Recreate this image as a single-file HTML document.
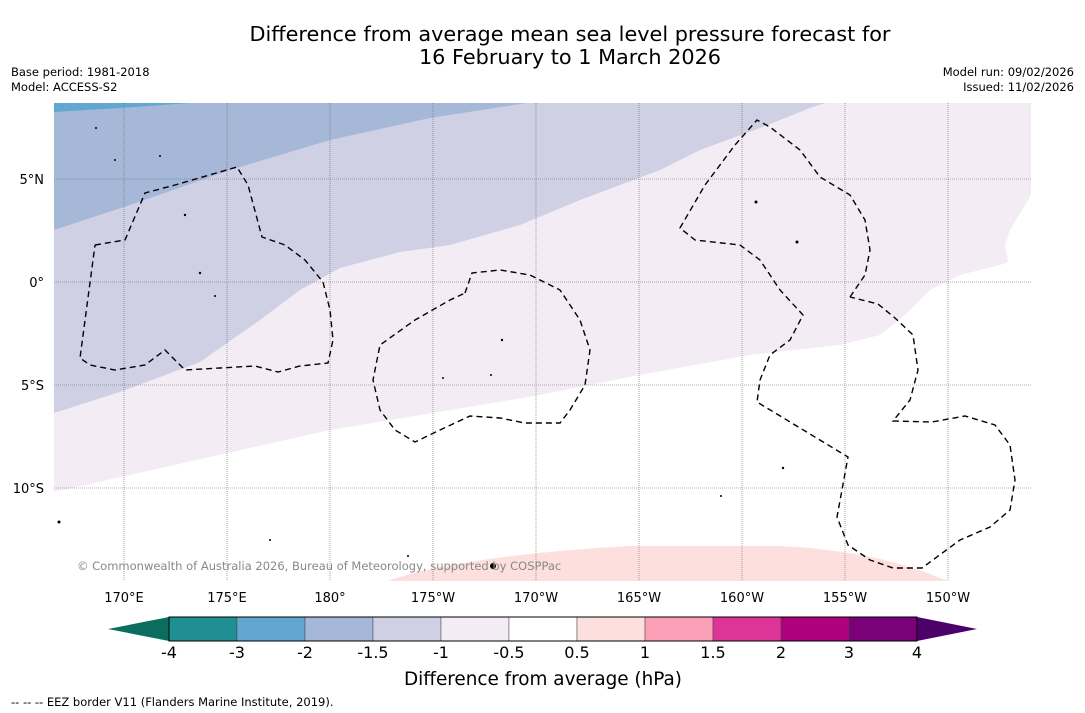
<!DOCTYPE html>
<html><head><meta charset="utf-8"><style>
body{margin:0;background:#fff;width:1085px;height:713px;overflow:hidden;font-family:"Liberation Sans","DejaVu Sans",sans-serif}
svg{position:absolute;left:0;top:0}
</style></head><body>
<svg id="s" width="1085" height="713" xmlns="http://www.w3.org/2000/svg">
<text x="570" y="41" font-size="20.8" text-anchor="middle" font-family="DejaVu Sans,sans-serif">Difference from average mean sea level pressure forecast for</text>
<text x="570" y="64" font-size="20.8" text-anchor="middle" font-family="DejaVu Sans,sans-serif">16 February to 1 March 2026</text>
<text x="11" y="76" font-size="11.5" font-family="DejaVu Sans,sans-serif">Base period: 1981-2018</text>
<text x="11" y="91" font-size="11.5" font-family="DejaVu Sans,sans-serif">Model: ACCESS-S2</text>
<text x="1074" y="76" font-size="11.5" text-anchor="end" font-family="DejaVu Sans,sans-serif">Model run: 09/02/2026</text>
<text x="1074" y="91" font-size="11.5" text-anchor="end" font-family="DejaVu Sans,sans-serif">Issued: 11/02/2026</text>
<defs><clipPath id="mc"><rect x="54" y="103" width="977" height="478"/></clipPath></defs>
<g clip-path="url(#mc)">
<rect x="54" y="103" width="977" height="478" fill="#ffffff"/>
<polygon fill="#f3ecf4" points="54,103 1031,103 1031,195 1010,230 1005,245 1008,262 1000,265 960,275 930,290 905,315 880,335 840,345 750,355 650,373 540,395 330,430 54,492"/>
<polygon fill="#cfd0e4" points="54,103 825,103 810,108 760,128 700,150 660,170 620,185 580,200 520,225 450,245 400,252 340,268 300,290 260,320 200,362 120,392 54,413"/>
<polygon fill="#a5b8d8" points="54,103 527,103 430,118 330,140 230,170 130,205 54,230"/>
<polygon fill="#62a7cf" points="54,103 190,103 120,108 54,112"/>
<path fill="#fde0dd" d="M385,582 C430,565 520,552 630,546 L780,546 C860,550 910,565 950,582 Z"/>
<g id="grid" stroke="#666" stroke-width="0.6" stroke-dasharray="1,1"></g>
<g fill="none" stroke="#000" stroke-width="1.4" stroke-dasharray="6,4">
<polyline points="95,245 125,240 145,193 175,185 237,167 248,185 262,237 285,245 305,260 323,282 330,310 333,340 328,363 300,366 278,372 255,366 185,370 165,350 145,365 115,370 90,365 80,358 95,245"/>
<polyline points="465,293 472,273 500,270 530,275 560,290 580,320 590,350 585,385 570,410 560,423 525,423 500,418 470,416 440,430 415,442 395,430 380,410 373,380 380,345 415,320 450,300 465,293"/>
<polyline points="850,297 865,275 870,250 865,220 850,195 820,177 800,150 770,127 757,120 735,145 705,185 680,228 695,240 740,245 760,260 780,290 803,315 790,340 770,355 760,380 757,402 848,457 837,517 848,545 870,560 893,568 922,568 960,540 990,527 1010,510 1015,480 1010,445 995,425 965,416 932,422 893,421 910,400 918,370 913,335 895,318 878,304 850,297"/>
</g>
<g fill="#000">
<circle cx="96" cy="128" r="1"/><circle cx="115" cy="160" r="1"/><circle cx="160" cy="156" r="1"/><circle cx="185" cy="215" r="1.2"/><circle cx="200" cy="273" r="1.2"/><circle cx="215" cy="296" r="1"/><circle cx="443" cy="378" r="1"/><circle cx="502" cy="340" r="1.2"/><circle cx="491" cy="375" r="1"/><circle cx="756" cy="202" r="1.5"/><circle cx="797" cy="242" r="1.5"/><circle cx="783" cy="468" r="1.2"/><circle cx="721" cy="496" r="1"/><circle cx="59" cy="522" r="1.5"/><circle cx="493" cy="566" r="3"/><circle cx="270" cy="540" r="1"/><circle cx="408" cy="556" r="1"/>
</g>
<text x="77" y="570" font-size="11.5" fill="#888" font-family="DejaVu Sans,sans-serif">© Commonwealth of Australia 2026, Bureau of Meteorology, supported by COSPPac</text>
</g>
<g id="axes" font-size="13" font-family="DejaVu Sans,sans-serif"></g>
<g id="cbar"></g>
<text x="543" y="685" font-size="18.4" text-anchor="middle" font-family="DejaVu Sans,sans-serif">Difference from average (hPa)</text>
<text x="11" y="706" font-size="11.5" font-family="DejaVu Sans,sans-serif">--  --  -- EEZ border V11 (Flanders Marine Institute, 2019).</text>
</svg>
<script>
const lonTicks=[170,175,180,-175,-170,-165,-160,-155,-150];
const lonLabels=["170°E","175°E","180°","175°W","170°W","165°W","160°W","155°W","150°W"];
const latTicks=[5,0,-5,-10];
const latLabels=["5°N","0°","5°S","10°S"];
const levelLabels=["-4","-3","-2","-1.5","-1","-0.5","0.5","1","1.5","2","3","4"];
const binColors=["#1f8f94","#62a7cf","#a5b8d8","#cfd0e4","#f3ecf4","#ffffff","#fde0dd","#fa9fb5","#dd3497","#ae017e","#7a0177"];
const NS="http://www.w3.org/2000/svg";
const xOf=lon=>{let l=lon<0?lon+360:lon;return 124+(l-170)*20.6;};
const yOf=lat=>282-lat*20.6;
function mk(t,a,p){const e=document.createElementNS(NS,t);for(const k in a)e.setAttribute(k,a[k]);p.appendChild(e);return e;}
const grid=document.getElementById('grid'),axes=document.getElementById('axes'),cb=document.getElementById('cbar');
lonTicks.forEach((v,i)=>{const x=xOf(v);
const l=mk('line',{x1:x,x2:x,y1:103,y2:581},grid);


const t=mk('text',{x:x,y:602,'text-anchor':'middle'},axes);t.textContent=lonLabels[i];

});
latTicks.forEach((v,i)=>{const y=yOf(v);
const l=mk('line',{x1:54,x2:1031,y1:y,y2:y},grid);


const t=mk('text',{x:44,y:y+5,'text-anchor':'end'},axes);t.textContent=latLabels[i];

});
const cx0=169,cw=68,cy=617,ch=24;
binColors.forEach((c,i)=>{const r=mk('rect',{x:cx0+i*cw,y:cy,width:cw,height:ch,fill:c,stroke:'#444','stroke-width':0.5},cb);

});
const la=mk('polygon',{points:`${cx0},${cy} 108,${cy+ch/2} ${cx0},${cy+ch}`,fill:'#0b6d5d'},cb);


const xe=cx0+binColors.length*cw;
const ra=mk('polygon',{points:`${xe},${cy} ${xe+60},${cy+ch/2} ${xe},${cy+ch}`,fill:'#4d006a'},cb);


mk('rect',{x:cx0,y:cy,width:xe-cx0,height:ch,fill:'none',stroke:'#000','stroke-width':1},cb);
levelLabels.forEach((s,i)=>{const t=mk('text',{x:cx0+i*cw,y:658,'text-anchor':'middle','font-size':16,'font-family':'DejaVu Sans,sans-serif'},cb);t.textContent=s;

});
</script>
</body></html>
